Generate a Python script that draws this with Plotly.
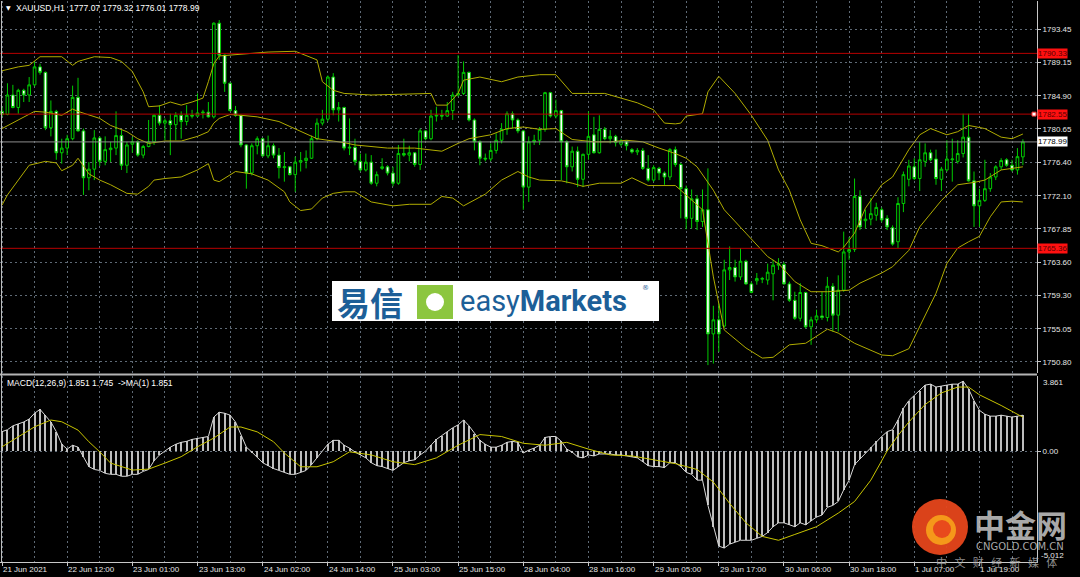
import plotly.graph_objects as go

# ---------------- DATA ----------------
bars = list(range(189))

open_ = [1782.9,1782.5,1785.0,1783.4,1785.6,1785.0,1786.3,1788.6,1787.9,1780.8,
         1782.9,1777.6,1778.2,1779.4,1784.7,1780.4,1774.4,1775.5,1779.5,1776.5,
         1778.0,1778.2,1779.8,1776.0,1778.7,1779.0,1777.3,1778.4,1779.0,1782.4,
         1781.4,1781.7,1781.2,1782.4,1781.6,1782.4,1782.3,1782.7,1782.8,1782.2,
         1794.2,1790.1,1786.5,1783.0,1782.4,1778.6,1775.0,1778.5,1779.4,1777.2,
         1778.5,1777.3,1775.7,1775.8,1774.8,1776.4,1776.6,1776.9,1779.4,1781.4,
         1781.9,1787.3,1783.1,1783.4,1778.2,1778.3,1776.5,1775.4,1776.4,1773.7,
         1775.6,1775.8,1775.0,1773.7,1777.5,1777.3,1777.6,1776.1,1780.4,1779.4,
         1782.3,1782.4,1782.3,1783.0,1785.0,1785.2,1787.9,1781.8,1779.0,1776.9,
         1776.8,1777.9,1779.2,1780.6,1782.6,1781.8,1780.4,1773.2,1779.0,1779.2,
         1780.6,1785.3,1782.3,1783.0,1779.0,1775.8,1777.8,1774.2,1777.4,1779.9,
         1777.6,1780.6,1779.4,1779.7,1778.7,1779.1,1778.0,1777.7,1777.9,1775.6,
         1774.1,1775.6,1775.0,1774.5,1778.0,1776.1,1773.0,1769.2,1771.7,1768.8,
         1770.3,1754.4,1756.2,1755.4,1762.6,1762.9,1761.7,1763.7,1760.8,1761.2,
         1761.4,1761.3,1762.1,1763.2,1763.3,1760.8,1758.7,1756.4,1759.7,1755.3,
         1756.2,1756.7,1756.5,1760.5,1756.8,1760.0,1764.9,1765.2,1772.0,1768.9,
         1769.1,1769.6,1770.3,1769.2,1768.0,1766.2,1771.1,1774.2,1775.8,1774.3,
         1776.5,1777.6,1776.8,1774.2,1775.4,1776.7,1776.5,1777.5,1779.6,1774.0,
         1770.8,1771.5,1773.0,1774.5,1775.8,1776.7,1776.0,1775.4,1777.07]

high = [1783.5,1786.5,1786.3,1785.8,1785.8,1787.3,1789.3,1789.0,1788.0,1784.3,
        1783.1,1779.4,1779.9,1786.2,1787.2,1780.7,1776.4,1780.5,1779.7,1779.7,
        1779.0,1782.9,1780.5,1779.0,1779.6,1779.2,1778.6,1781.8,1782.5,1783.7,
        1782.0,1782.6,1782.8,1782.9,1783.7,1783.1,1785.2,1783.1,1784.1,1794.3,
        1794.6,1790.2,1786.6,1783.6,1782.5,1778.7,1778.8,1779.7,1779.5,1779.8,
        1778.8,1778.2,1777.7,1775.9,1777.1,1777.7,1777.9,1779.8,1782.0,1783.1,
        1787.5,1787.8,1784.1,1783.5,1782.0,1779.4,1777.5,1777.5,1777.3,1775.2,
        1776.9,1776.0,1775.8,1778.6,1779.4,1778.5,1777.7,1780.7,1780.5,1783.1,
        1783.5,1783.1,1784.1,1785.4,1790.1,1789.3,1788.0,1782.0,1779.2,1777.5,
        1778.8,1780.1,1781.4,1782.9,1782.9,1782.0,1780.5,1779.7,1779.9,1780.9,
        1785.4,1785.4,1784.4,1783.1,1779.2,1778.4,1778.4,1777.5,1782.9,1782.2,
        1782.4,1780.9,1780.5,1779.9,1779.4,1779.2,1778.2,1778.2,1778.2,1777.3,
        1776.0,1775.8,1775.2,1778.2,1778.4,1776.3,1773.4,1772.9,1772.2,1772.9,
        1775.6,1758.0,1758.3,1763.9,1765.6,1763.9,1765.4,1763.9,1761.1,1762.2,
        1761.7,1763.4,1763.9,1764.1,1763.6,1761.1,1759.8,1760.9,1759.8,1756.6,
        1757.5,1759.8,1761.7,1760.9,1761.9,1767.5,1766.8,1774.3,1772.8,1770.3,
        1771.8,1771.2,1770.6,1769.6,1768.3,1771.9,1775.2,1776.7,1776.9,1779.0,
        1778.8,1778.0,1778.0,1775.8,1779.2,1779.4,1779.2,1782.6,1782.6,1775.2,
        1773.0,1776.7,1775.0,1776.0,1776.9,1776.9,1776.7,1778.2,1779.32]

low = [1782.2,1782.4,1783.3,1782.6,1784.1,1784.1,1786.1,1787.6,1780.5,1779.7,
       1776.7,1776.2,1777.3,1779.2,1780.3,1772.2,1772.8,1774.1,1775.9,1776.0,
       1776.4,1777.3,1775.4,1775.0,1777.6,1777.1,1776.9,1778.3,1778.6,1781.1,
       1779.2,1777.3,1779.2,1779.4,1781.1,1782.0,1782.2,1782.0,1782.1,1782.0,
       1789.5,1785.4,1782.9,1782.2,1778.3,1773.0,1774.7,1777.4,1777.1,1776.9,
       1776.9,1774.3,1773.9,1774.7,1772.6,1775.2,1775.6,1776.8,1779.2,1781.1,
       1781.6,1782.4,1781.6,1777.9,1777.3,1776.0,1775.2,1775.2,1773.5,1773.3,
       1775.4,1774.7,1773.3,1773.5,1777.1,1776.5,1775.8,1775.4,1779.2,1779.2,
       1781.6,1781.8,1782.2,1781.8,1784.8,1785.0,1781.6,1777.9,1776.0,1776.5,
       1776.5,1777.5,1778.8,1779.9,1780.7,1780.1,1770.3,1771.3,1778.6,1778.6,
       1780.3,1782.1,1782.0,1774.1,1773.7,1775.2,1773.2,1773.2,1776.7,1777.5,
       1777.5,1779.2,1778.8,1778.4,1778.4,1777.9,1777.5,1777.3,1775.4,1773.9,
       1773.9,1774.1,1773.5,1774.1,1775.8,1769.2,1767.8,1767.9,1767.7,1768.1,
       1750.4,1750.6,1752.1,1755.2,1761.3,1761.1,1761.3,1760.7,1759.6,1760.7,
       1760.9,1760.7,1758.7,1762.6,1760.7,1758.5,1756.2,1756.0,1755.1,1753.0,
       1755.8,1756.2,1756.0,1754.7,1754.7,1759.8,1763.9,1764.9,1767.7,1767.9,
       1768.3,1768.9,1768.7,1767.7,1765.7,1765.4,1770.0,1773.3,1774.1,1772.7,
       1775.8,1776.5,1773.5,1772.7,1775.2,1773.9,1776.2,1777.0,1773.9,1768.1,
       1768.1,1771.3,1772.6,1774.1,1775.4,1775.8,1775.2,1774.8,1776.01]

close = [1782.5,1785.0,1783.4,1785.6,1785.0,1786.3,1788.6,1787.9,1780.8,1782.9,
         1777.6,1778.2,1779.4,1784.7,1780.4,1774.4,1775.5,1779.5,1776.5,1778.0,
         1778.2,1779.8,1776.0,1778.6,1779.0,1777.3,1778.4,1779.0,1782.4,1781.4,
         1781.7,1781.2,1782.4,1781.6,1782.4,1782.3,1782.7,1782.8,1782.2,1794.2,
         1790.1,1786.5,1783.0,1782.4,1778.6,1775.0,1778.5,1779.4,1777.2,1778.5,
         1777.3,1775.7,1775.8,1774.8,1776.4,1776.6,1776.9,1779.4,1781.4,1781.9,
         1787.3,1783.1,1783.4,1778.2,1778.3,1776.5,1775.4,1776.4,1773.7,1774.8,
         1775.8,1775.0,1773.7,1777.5,1777.3,1777.6,1776.1,1780.4,1779.4,1782.3,
         1782.4,1782.3,1783.0,1785.0,1785.2,1787.9,1781.8,1779.0,1776.9,1776.8,
         1777.9,1779.2,1780.6,1782.6,1781.8,1780.4,1773.2,1779.0,1779.2,1780.6,
         1785.3,1782.3,1783.0,1779.0,1775.8,1777.8,1774.2,1777.4,1779.7,1777.6,
         1780.6,1779.4,1779.7,1778.9,1779.1,1778.5,1777.7,1777.9,1775.6,1774.1,
         1775.7,1775.0,1774.5,1778.0,1776.1,1773.0,1769.2,1771.7,1768.8,1770.3,
         1754.4,1756.2,1754.4,1762.6,1762.9,1761.7,1763.7,1760.8,1759.7,1761.5,
         1761.5,1762.3,1763.2,1763.4,1760.8,1758.7,1756.4,1759.7,1755.3,1756.2,
         1756.7,1756.5,1760.5,1756.8,1760.0,1764.9,1765.2,1772.0,1768.1,1769.1,
         1769.8,1770.6,1769.0,1768.1,1765.9,1771.1,1774.8,1775.9,1774.3,1776.7,
         1777.6,1776.7,1774.3,1775.5,1776.8,1776.8,1777.5,1779.6,1774.0,1770.8,
         1771.5,1773.0,1774.5,1775.8,1776.6,1776.0,1775.4,1777.1,1778.99]

# Bollinger bands (20,2) at sample bars
bb_upper_bars = [0,3,5,6,7,11,12,13,14,17,20,22,24,26,27,29,31,33,35,37,38,39,40,45,49,54,56,58,59,61,63,
                 68,79,80,82,84,85,88,92,95,99,102,105,111,114,117,120,122,124,125,126,129,130,132,135,138,
                 141,143,145,147,149,151,154,155,157,159,162,164,167,169,171,174,176,178,181,184,186,188]
bb_upper = [1788.1,1788.6,1788.8,1789.3,1789.9,1789.9,1789.3,1788.8,1789.3,1789.9,1789.8,1789.3,1788.0,1785.4,
            1783.5,1783.6,1784.1,1783.7,1784.1,1784.6,1786.7,1789.0,1790.0,1790.3,1790.5,1790.6,1790.1,1789.5,
            1786.7,1785.6,1785.2,1785.0,1785.2,1783.7,1783.7,1785.2,1786.9,1787.3,1786.7,1787.3,1787.6,1787.6,
            1785.2,1785.2,1784.6,1784.0,1783.1,1781.4,1781.3,1781.4,1782.3,1782.6,1785.4,1787.4,1785.2,1782.4,
            1779.2,1775.4,1772.8,1769.0,1766.0,1765.7,1764.9,1765.5,1767.3,1770.5,1773.5,1774.5,1778.0,1779.9,
            1780.7,1779.9,1780.3,1781.1,1780.7,1779.6,1779.4,1780.0]

bb_mid_bars = [0,3,6,8,11,13,14,18,20,23,25,27,30,33,36,38,39,40,42,44,47,51,54,56,58,61,63,65,71,76,81,
               84,86,90,93,96,99,102,105,109,112,115,118,121,124,126,128,131,133,137,141,143,146,149,152,
               156,158,162,164,167,169,173,176,179,181,184,186,188]
bb_mid = [1780.7,1781.8,1782.9,1782.8,1782.4,1783.2,1782.9,1782.0,1781.1,1780.3,1779.4,1778.8,1779.1,1779.1,
          1779.7,1780.3,1781.4,1782.0,1782.5,1782.4,1782.2,1781.6,1780.7,1780.1,1779.4,1779.1,1778.9,1778.6,
          1778.2,1778.2,1777.8,1778.8,1779.4,1779.9,1780.7,1780.9,1780.6,1780.7,1779.3,1779.0,1779.0,1779.2,
          1779.0,1778.2,1777.5,1776.9,1775.8,1772.8,1770.3,1767.3,1764.3,1763.4,1761.1,1759.8,1759.8,1760.0,
          1760.9,1762.2,1763.0,1765.1,1768.1,1771.5,1773.5,1773.8,1774.1,1775.4,1775.6,1775.8]

bb_lower_bars = [0,1,5,8,10,11,13,14,16,18,20,23,25,27,28,30,33,36,38,39,40,43,46,49,52,53,55,57,59,61,63,
                 65,68,72,75,79,81,83,85,89,92,95,97,99,103,105,107,110,114,116,119,124,125,129,131,133,137,
                 140,142,145,148,152,154,157,162,164,167,169,172,174,176,178,180,182,184,186,188]
bb_lower = [1770.9,1772.2,1776.0,1776.5,1776.3,1775.3,1776.0,1776.9,1774.9,1774.1,1773.5,1772.4,1772.3,1773.3,
            1774.1,1774.3,1774.5,1775.4,1776.2,1774.1,1773.9,1775.2,1774.9,1774.1,1772.6,1771.3,1770.2,1770.4,
            1771.8,1772.4,1772.6,1772.6,1771.3,1770.8,1771.0,1771.0,1772.0,1771.8,1770.8,1772.3,1774.1,1775.2,
            1774.5,1774.1,1774.0,1773.7,1773.3,1773.7,1773.7,1774.4,1773.4,1773.4,1772.8,1770.3,1761.7,1754.9,
            1752.6,1751.3,1751.4,1753.0,1753.2,1755.0,1754.5,1753.2,1751.7,1751.6,1752.5,1755.3,1759.6,1763.4,
            1765.4,1766.2,1766.9,1769.4,1771.3,1771.4,1771.3]

# MACD(12,26,9) main values (histogram) per bar
macd = [1.0,1.1,1.3,1.4,1.5,1.65,1.95,2.15,1.85,1.5,
        1.0,0.35,0.1,0.3,0.2,-0.3,-0.8,-0.95,-1.0,-1.15,
        -1.2,-1.2,-1.3,-1.3,-1.2,-1.2,-1.05,-0.95,-0.5,-0.2,
        0.0,0.2,0.35,0.45,0.5,0.6,0.65,0.7,0.75,1.75,
        2.0,1.95,1.85,1.5,0.8,0.2,-0.05,-0.3,-0.6,-0.75,
        -0.9,-1.0,-1.1,-1.2,-1.2,-1.1,-1.0,-0.7,-0.35,0.0,
        0.35,0.55,0.55,0.3,0.15,-0.05,-0.2,-0.35,-0.6,-0.75,
        -0.8,-0.9,-1.0,-0.8,-0.6,-0.5,-0.45,-0.2,0.0,0.3,
        0.6,0.8,1.0,1.2,1.35,1.6,1.3,0.9,0.55,0.35,
        0.2,0.2,0.3,0.45,0.5,0.45,-0.1,0.05,0.15,0.3,
        0.7,0.75,0.75,0.5,0.1,-0.05,-0.3,-0.35,-0.2,-0.25,
        -0.15,-0.15,-0.15,-0.2,-0.2,-0.25,-0.3,-0.35,-0.55,-0.75,
        -0.8,-0.8,-0.85,-0.6,-0.6,-0.8,-1.1,-1.2,-1.5,-1.5,
        -2.8,-3.9,-4.9,-5.0,-4.8,-4.7,-4.6,-4.6,-4.6,-4.5,
        -4.4,-4.2,-3.9,-3.7,-3.7,-3.8,-3.9,-3.7,-3.8,-3.6,
        -3.4,-3.3,-2.9,-2.8,-2.6,-2.0,-1.5,-0.7,-0.4,-0.1,
        0.2,0.5,0.75,1.0,1.1,1.6,2.2,2.6,2.85,3.1,
        3.4,3.45,3.3,3.35,3.4,3.45,3.45,3.6,3.2,2.6,
        2.1,1.9,1.8,1.8,1.85,1.8,1.75,1.8,1.851]

signal_bars = [0,3,6,9,11,14,16,18,20,24,27,30,33,36,39,42,44,47,50,52,55,58,61,64,68,72,76,80,84,88,92,96,
               100,104,108,112,116,120,124,128,131,134,137,140,143,146,150,154,157,160,163,165,167,170,173,
               176,178,180,184,188]
signal = [0.22,0.74,1.25,1.6,1.51,1.08,0.48,-0.04,-0.62,-0.98,-0.93,-0.62,-0.29,0.22,0.67,1.24,1.24,0.99,0.48,
          -0.1,-0.81,-0.81,-0.55,-0.04,-0.2,-0.55,-0.7,-0.35,0.3,0.85,0.75,0.4,0.3,0.45,0.1,-0.2,-0.25,-0.45,
          -0.65,-0.95,-1.6,-2.7,-3.7,-4.4,-4.6,-4.3,-3.9,-3.2,-2.6,-1.5,0.0,0.8,1.5,2.4,3.0,3.3,3.3,2.9,2.35,1.745]

xtick_bars = [0,12,24,36,48,60,72,84,96,108,120,132,144,156,168,180]
xtick_labels = ["21 Jun 2021","22 Jun 12:00","23 Jun 01:00","23 Jun 13:00","24 Jun 02:00","24 Jun 14:00",
                "25 Jun 03:00","25 Jun 15:00","28 Jun 04:00","28 Jun 16:00","29 Jun 05:00","29 Jun 17:00",
                "30 Jun 06:00","30 Jun 18:00","1 Jul 07:00","1 Jul 19:00"]
xgrid_minor = [6,18,30,42,54,66,78,90,102,114,126,138,150,162,174,186]
price_ticks = [1793.45,1789.15,1784.90,1780.65,1776.40,1772.10,1767.85,1763.60,1759.30,1755.05,1750.80]
red_levels = [1790.33,1782.55,1765.36]
last_price = 1778.99
macd_max, macd_min = 3.861, -5.012
header = "XAUUSD,H1  1777.07 1779.32 1776.01 1778.99"
macd_title = "MACD(12,26,9) 1.851 1.745  ->MA(1) 1.851"

# ---------------- FIGURE ----------------
W, H = 1080, 577
ML, MR, MT, MB = 0, 43, 1, 15
PW, PH = W - ML - MR, H - MT - MB


def px(x):
    return (x - ML) / PW


def py(y):
    return (H - MB - y) / PH


GRID = "#5f6a76"
AX = "#c8c8c8"
TXT = "#e6e6e6"
BAND = "#b0ac00"
GREEN = "#00cc00"
FONT = "Liberation Sans"

fig = go.Figure()

for bx, by in [(bb_upper_bars, bb_upper), (bb_mid_bars, bb_mid), (bb_lower_bars, bb_lower)]:
    fig.add_trace(go.Scatter(x=bx, y=by, mode="lines", line=dict(color=BAND, width=1),
                             hoverinfo="skip", xaxis="x", yaxis="y"))

fig.add_trace(go.Candlestick(
    x=bars, open=open_, high=high, low=low, close=close,
    increasing=dict(line=dict(color=GREEN, width=1), fillcolor="#000000"),
    decreasing=dict(line=dict(color=GREEN, width=1), fillcolor="#ffffff"),
    whiskerwidth=0, hoverinfo="skip", xaxis="x", yaxis="y"))

fig.add_trace(go.Bar(x=bars, y=macd, width=0.2, marker=dict(color="#bdbdbd", line=dict(width=0)),
                     hoverinfo="skip", xaxis="x2", yaxis="y2"))
fig.add_trace(go.Scatter(x=bars, y=macd, mode="lines", line=dict(color="#d8d8d8", width=1),
                         hoverinfo="skip", xaxis="x2", yaxis="y2"))
fig.add_trace(go.Scatter(x=signal_bars, y=signal, mode="lines", line=dict(color="#c8c400", width=1),
                         hoverinfo="skip", xaxis="x2", yaxis="y2"))

xr = [-0.37, 190.6]
yr_main = [1749.39, 1797.04]
yr_macd = [-5.72, 3.87]
dom_main = [py(373), 1.0]
dom_macd = [0.0, py(376)]

common_x = dict(range=xr, showticklabels=False, zeroline=False, showgrid=True,
                tickmode="array", tickvals=xtick_bars, gridcolor=GRID, griddash="2px,3px", gridwidth=1,
                minor=dict(tickmode="array", tickvals=xgrid_minor, showgrid=True, gridcolor=GRID,
                           griddash="2px,3px", gridwidth=1, ticklen=0))

fig.update_layout(
    width=W, height=H, margin=dict(l=ML, r=MR, t=MT, b=MB),
    paper_bgcolor="#000000", plot_bgcolor="#000000", showlegend=False,
    font=dict(family=FONT, size=8, color=TXT),
    xaxis=dict(domain=[0, 1], anchor="y", rangeslider=dict(visible=False), ticks="", **common_x),
    xaxis2=dict(domain=[0, 1], anchor="y2", matches="x", showline=True, linecolor=AX, linewidth=1,
                ticks="outside", ticklen=3, tickcolor=AX, **common_x),
    yaxis=dict(domain=dom_main, range=yr_main, side="right", tickmode="array", tickvals=price_ticks,
               ticktext=[f"{v:.2f}" for v in price_ticks], showgrid=True, gridcolor=GRID, griddash="2px,3px",
               zeroline=False, showline=True, linecolor=AX, linewidth=1, ticks="outside", ticklen=3,
               tickcolor=AX, tickfont=dict(size=8, color=TXT)),
    yaxis2=dict(domain=dom_macd, range=yr_macd, side="right", tickmode="array", tickvals=[0],
                ticktext=["0.00"], showgrid=True, gridcolor=GRID, griddash="2px,3px", zeroline=False,
                showline=True, linecolor=AX, linewidth=1, ticks="outside", ticklen=3, tickcolor=AX,
                tickfont=dict(size=8, color=TXT)),
    bargap=0,
)

shapes = []
for lv in red_levels:
    shapes.append(dict(type="line", xref="paper", yref="y", x0=0, x1=1, y0=lv, y1=lv,
                       line=dict(color="#b80000", width=1)))
shapes.append(dict(type="line", xref="paper", yref="y", x0=0, x1=1, y0=last_price, y1=last_price,
                   line=dict(color="#8c8c8c", width=1)))
shapes.append(dict(type="line", xref="paper", yref="paper", x0=0, x1=1, y0=py(374.5), y1=py(374.5),
                   line=dict(color="#b4b4b4", width=2)))
shapes.append(dict(type="line", xref="paper", yref="paper", x0=px(1.5), x1=px(1.5), y0=0, y1=1,
                   line=dict(color="#bdbdbd", width=1)))
shapes.append(dict(type="rect", xref="paper", yref="y", x0=px(1032), x1=px(1036),
                   y0=red_levels[1] - 0.25, y1=red_levels[1] + 0.25,
                   line=dict(color="#ff3030", width=1), fillcolor="#ffffff"))

# easyMarkets logo
shapes.append(dict(type="rect", xref="paper", yref="paper", x0=px(332), x1=px(659), y0=py(321), y1=py(281),
                   line=dict(width=0), fillcolor="#ffffff"))
shapes.append(dict(type="rect", xref="paper", yref="paper", x0=px(417), x1=px(453), y0=py(319), y1=py(285),
                   line=dict(width=0), fillcolor="#8cc63f"))
shapes.append(dict(type="circle", xref="paper", yref="paper", x0=px(426), x1=px(444), y0=py(311), y1=py(293),
                   line=dict(width=0), fillcolor="#ffffff"))

# watermark circle
shapes.append(dict(type="circle", xref="paper", yref="paper", x0=px(912), x1=px(968), y0=py(555), y1=py(499),
                   line=dict(width=0), fillcolor="#e6461b", opacity=0.95))
shapes.append(dict(type="circle", xref="paper", yref="paper", x0=px(926), x1=px(956), y0=py(545), y1=py(515),
                   line=dict(width=0), fillcolor="#f7a21b", opacity=0.9))
shapes.append(dict(type="circle", xref="paper", yref="paper", x0=px(933), x1=px(951), y0=py(538), y1=py(520),
                   line=dict(width=0), fillcolor="#e84a1c", opacity=1))

ann = []
for b, t in zip(xtick_bars, xtick_labels):
    ann.append(dict(x=b, xref="x2", y=py(569), yref="paper", text=t, showarrow=False, xanchor="left",
                    yanchor="middle", xshift=-1, font=dict(size=8, color=TXT, family=FONT)))
for lv in red_levels:
    ann.append(dict(x=1, xref="paper", y=lv, yref="y", text=f"{lv:.2f}", showarrow=False, xanchor="left",
                    yanchor="middle", xshift=0, bgcolor="#ff1010", borderpad=0,
                    font=dict(size=8, color="#5a0000", family=FONT)))
ann.append(dict(x=1, xref="paper", y=last_price, yref="y", text=f"{last_price:.2f}", showarrow=False,
                xanchor="left", yanchor="middle", xshift=0, bgcolor="#ffffff", borderpad=0,
                font=dict(size=8, color="#000000", family=FONT)))
ann.append(dict(x=1, xref="paper", y=py(382), yref="paper", text=f"{macd_max:.3f}", showarrow=False,
                xanchor="left", yanchor="middle", xshift=4, font=dict(size=8, color=TXT, family=FONT)))
ann.append(dict(x=1, xref="paper", y=py(555), yref="paper", text=f"{macd_min:.3f}", showarrow=False,
                xanchor="left", yanchor="middle", xshift=2, font=dict(size=8, color=TXT, family=FONT)))
ann.append(dict(x=px(4), xref="paper", y=py(8), yref="paper", text="▼", showarrow=False, xanchor="left",
                yanchor="middle", font=dict(size=6, color="#ffffff", family="DejaVu Sans")))
ann.append(dict(x=px(14), xref="paper", y=py(8), yref="paper", text=header, showarrow=False, xanchor="left",
                yanchor="middle", font=dict(size=8.5, color="#ffffff", family=FONT)))
ann.append(dict(x=px(5), xref="paper", y=py(383), yref="paper", text=macd_title, showarrow=False,
                xanchor="left", yanchor="middle", font=dict(size=8.5, color="#ffffff", family=FONT)))
ann.append(dict(x=px(370), xref="paper", y=py(302), yref="paper", text="<b>易信</b>", showarrow=False,
                xanchor="center", yanchor="middle",
                font=dict(size=33, color="#1c5f98", family="Noto Sans CJK SC")))
ann.append(dict(x=px(458), xref="paper", y=py(301), yref="paper", text="easy<b>Markets</b>", showarrow=False,
                xanchor="left", yanchor="middle", font=dict(size=29, color="#1c5f98", family="Roboto")))
ann.append(dict(x=px(645), xref="paper", y=py(288), yref="paper", text="®", showarrow=False,
                xanchor="center", yanchor="middle", font=dict(size=7, color="#1c5f98", family="DejaVu Sans")))
ann.append(dict(x=px(1020), xref="paper", y=py(523), yref="paper", text="<b>中金网</b>", showarrow=False,
                xanchor="center", yanchor="middle",
                font=dict(size=31, color="rgba(200,200,200,0.85)", family="Noto Sans CJK SC")))
ann.append(dict(x=px(1020), xref="paper", y=py(546), yref="paper", text="CNGOLD.COM.CN", showarrow=False,
                xanchor="center", yanchor="middle",
                font=dict(size=10, color="rgba(200,200,200,0.85)", family="DejaVu Sans")))
ann.append(dict(x=px(996), xref="paper", y=py(562), yref="paper", text="中   文   财   经   新   媒   体",
                showarrow=False, xanchor="center", yanchor="middle",
                font=dict(size=11, color="rgba(170,170,170,0.85)", family="Noto Sans CJK SC")))

fig.update_layout(shapes=shapes, annotations=ann)

fig.write_html("out.html", config={"displayModeBar": False},
               post_script="document.body.style.margin='0';document.body.style.overflow='hidden';")
